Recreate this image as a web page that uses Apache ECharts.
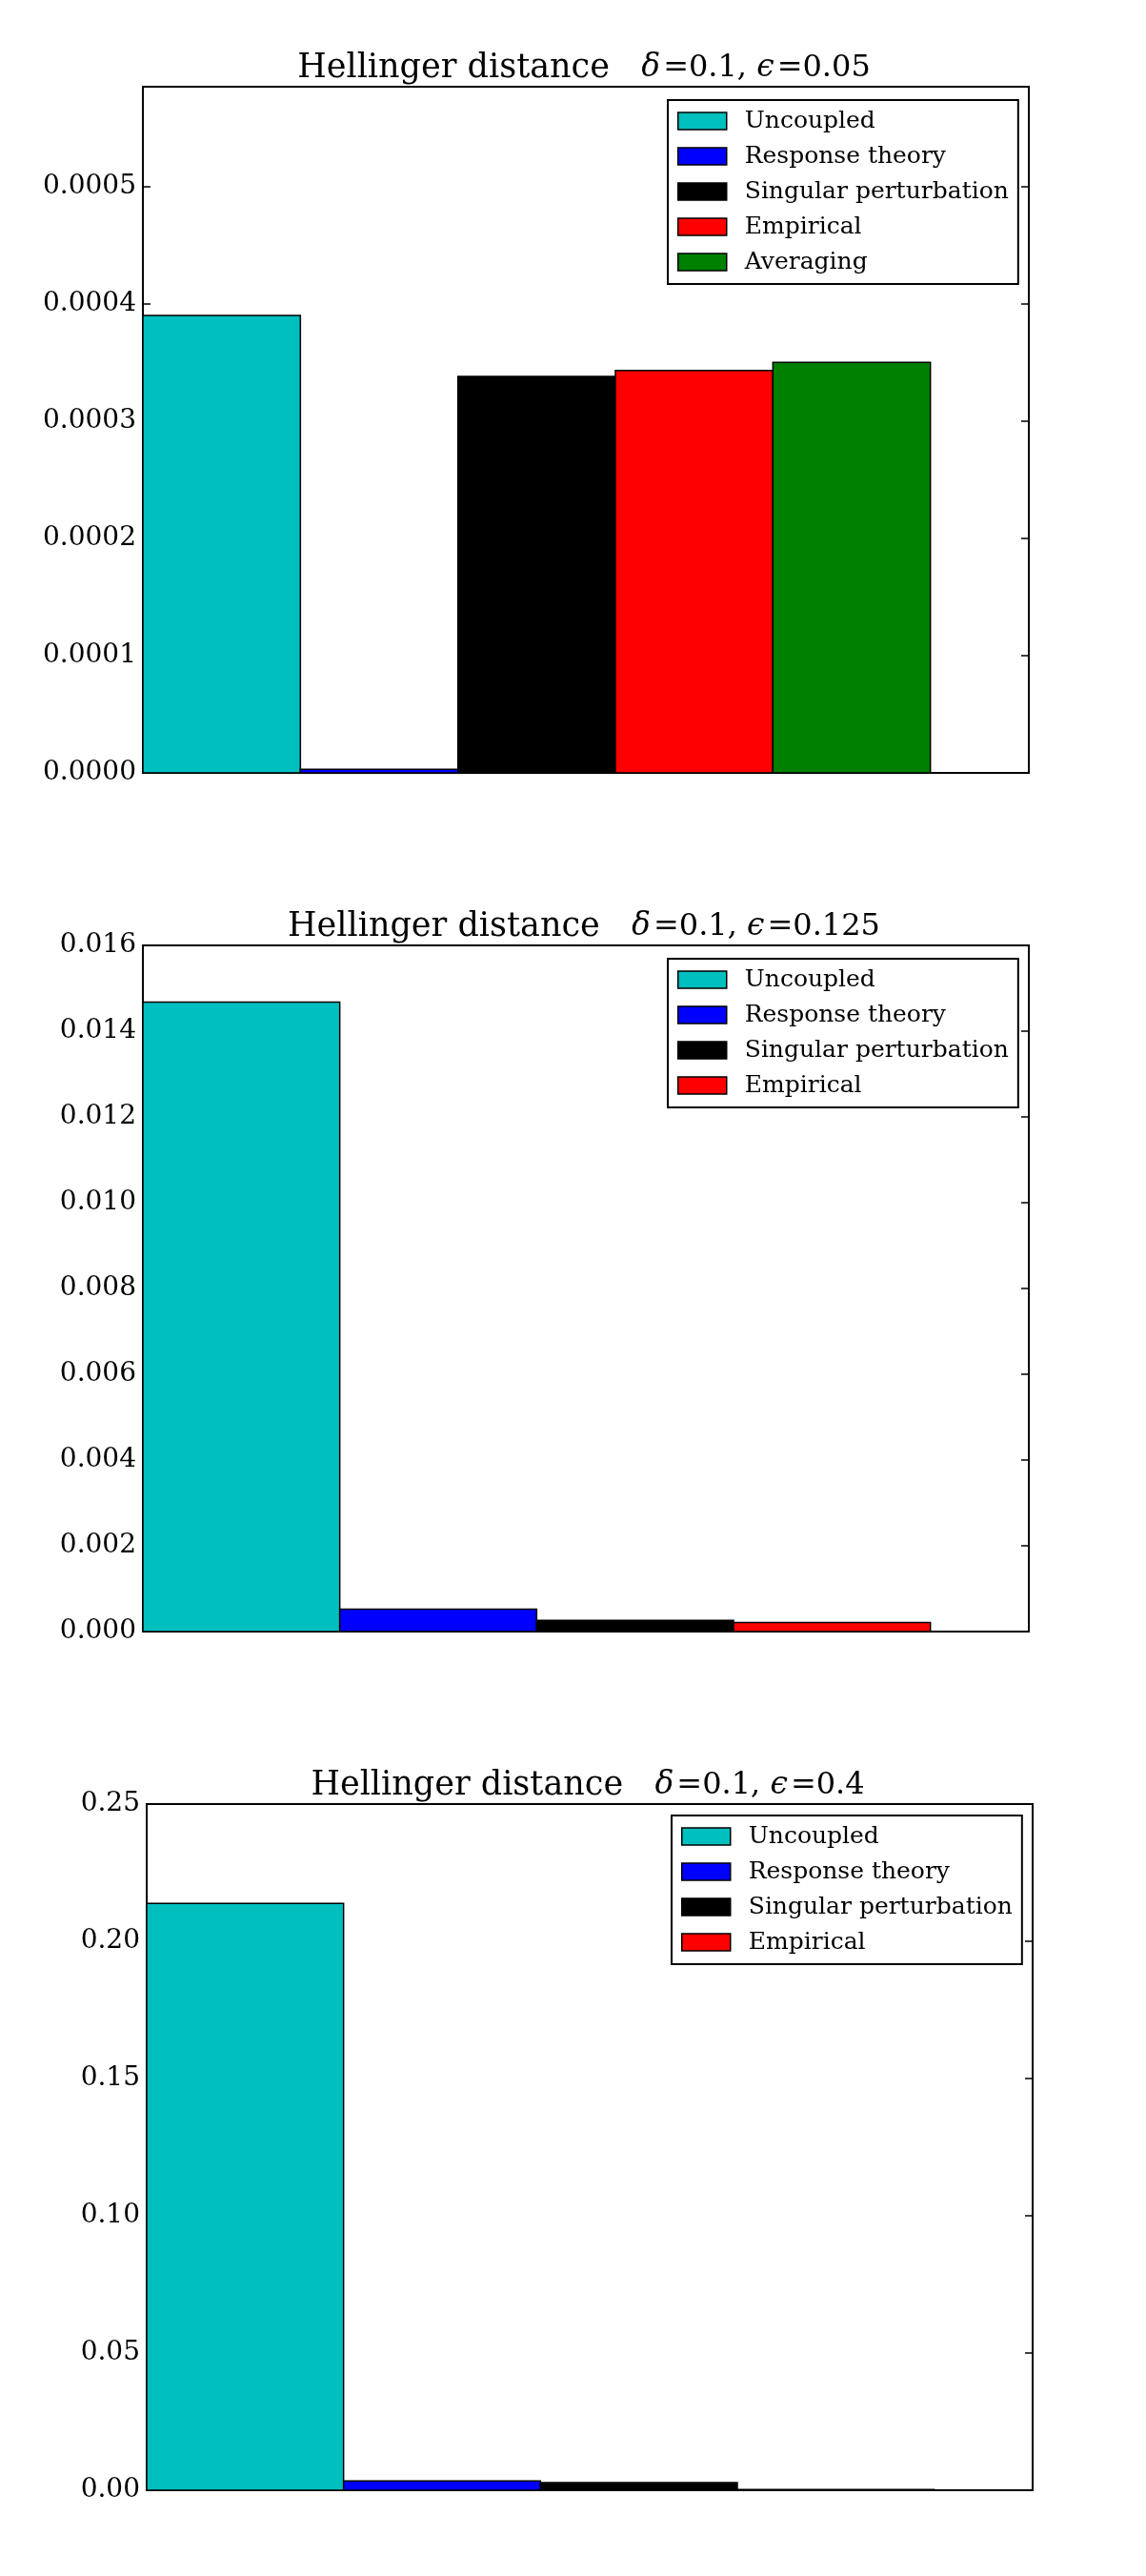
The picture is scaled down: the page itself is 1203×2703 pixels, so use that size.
<!DOCTYPE html>
<html>
<head>
<meta charset="utf-8">
<title>Hellinger distance</title>
<script src="https://cdn.jsdelivr.net/npm/echarts@6/dist/echarts.min.js"></script>
<style>
  html, body { margin: 0; padding: 0; background: #fff; }
  #main { width: 1203px; height: 2703px; }
</style>
</head>
<body>
<div id="main"></div>
<script>
// method names and colours, same order in all three panels
var methods = ['Uncoupled', 'Response theory', 'Singular perturbation', 'Empirical', 'Averaging'];
var colors = ['#00bfbf', '#0000ff', '#000000', '#ff0000', '#008000'];

// Hellinger distances
var hellEps005 = [0.000390, 0.000003, 0.000338, 0.000343, 0.000350];
var hellEps0125 = [0.01468, 0.00052, 0.00026, 0.00021];
var hellEps04 = [0.2138, 0.0034, 0.0028, 0.0003];

// panel titles (epsilon part) and y axis setup
var epsLabels = ['0.05', '0.125', '0.4'];
var yMax = [0.000585, 0.016, 0.25];
var yStep = [0.0001, 0.002, 0.05];
var yDigits = [4, 3, 2];

var panels = [hellEps005, hellEps0125, hellEps04];
var gridTop = [91, 992, 1893];
var gridLeft = [150, 150, 154];
var legendPos = [[701, 105], [701, 1006], [705, 1905]];

var serif = '"DejaVu Serif", "Liberation Serif", serif';

var myChart = echarts.init(document.getElementById('main'), null, { renderer: 'canvas' });

var option = {
  backgroundColor: '#fff',
  animation: false,
  title: [],
  legend: [],
  grid: [],
  xAxis: [],
  yAxis: [],
  series: []
};

panels.forEach(function (vals, p) {
  var n = vals.length;
  var w = 0.8 / n; // bars fill 0..0.8 of an axis running to 0.9

  option.title.push({
    text: 'Hellinger distance   {m|δ}{n|=0.1, }{m|ϵ}{n|=' + epsLabels[p] + '}',
    left: gridLeft[p] + 463,
    top: gridTop[p] - 37,
    textAlign: 'center',
    padding: 0,
    textStyle: {
      fontFamily: serif, fontSize: 35, fontWeight: 'normal', color: '#000',
      rich: {
        m: { fontFamily: serif, fontSize: 33, fontStyle: 'italic', color: '#000', padding: [0, 3, 0, 0] },
        n: { fontFamily: serif, fontSize: 32, color: '#000' }
      }
    }
  });

  option.legend.push({
    orient: 'vertical',
    left: legendPos[p][0],
    top: legendPos[p][1],
    backgroundColor: '#fff',
    borderColor: '#000',
    borderWidth: 2,
    borderRadius: 0,
    padding: [8, 10, 9, 10],
    itemWidth: 51,
    itemHeight: 18,
    itemGap: 9,
    selectedMode: false,
    textStyle: { fontFamily: serif, fontSize: 25, color: '#000', lineHeight: 28, padding: [0, 0, 0, 14] },
    data: methods.slice(0, n).map(function (m, i) {
      return { name: m, icon: 'rect', itemStyle: { color: colors[i], borderColor: '#000', borderWidth: 1.5 } };
    })
  });

  option.grid.push({
    left: gridLeft[p], top: gridTop[p], width: 930, height: 720,
    show: true, borderColor: '#000', borderWidth: 2, backgroundColor: '#fff'
  });

  option.xAxis.push({
    type: 'value', gridIndex: p, min: 0, max: 0.9, show: false
  });

  var yBase = {
    type: 'value', gridIndex: p, min: 0, max: yMax[p], interval: yStep[p],
    axisLine: { show: false },
    splitLine: { show: false },
    axisTick: { show: true, inside: true, length: 8, lineStyle: { color: '#000', width: 1.5 } }
  };
  option.yAxis.push(Object.assign({}, yBase, {
    position: 'left',
    axisLabel: {
      show: true, margin: 7, color: '#000', fontFamily: serif, fontSize: 28,
      showMaxLabel: p !== 0,
      formatter: function (v) { return v.toFixed(yDigits[p]); }
    }
  }));
  option.yAxis.push(Object.assign({}, yBase, {
    position: 'right',
    axisLabel: { show: false }
  }));

  vals.forEach(function (v, i) {
    option.series.push({
      name: methods[i],
      type: 'custom',
      xAxisIndex: p,
      yAxisIndex: 2 * p,
      itemStyle: { color: colors[i] },
      encode: { x: [0, 1], y: 2 },
      data: [[i * w, (i + 1) * w, v]],
      renderItem: function (params, api) {
        var topLeft = api.coord([api.value(0), api.value(2)]);
        var bottomRight = api.coord([api.value(1), 0]);
        return {
          type: 'rect',
          shape: {
            x: topLeft[0], y: topLeft[1],
            width: bottomRight[0] - topLeft[0],
            height: bottomRight[1] - topLeft[1]
          },
          style: { fill: colors[i], stroke: '#000', lineWidth: 1.5 }
        };
      }
    });
  });
});

option && myChart.setOption(option);
</script>
</body>
</html>
